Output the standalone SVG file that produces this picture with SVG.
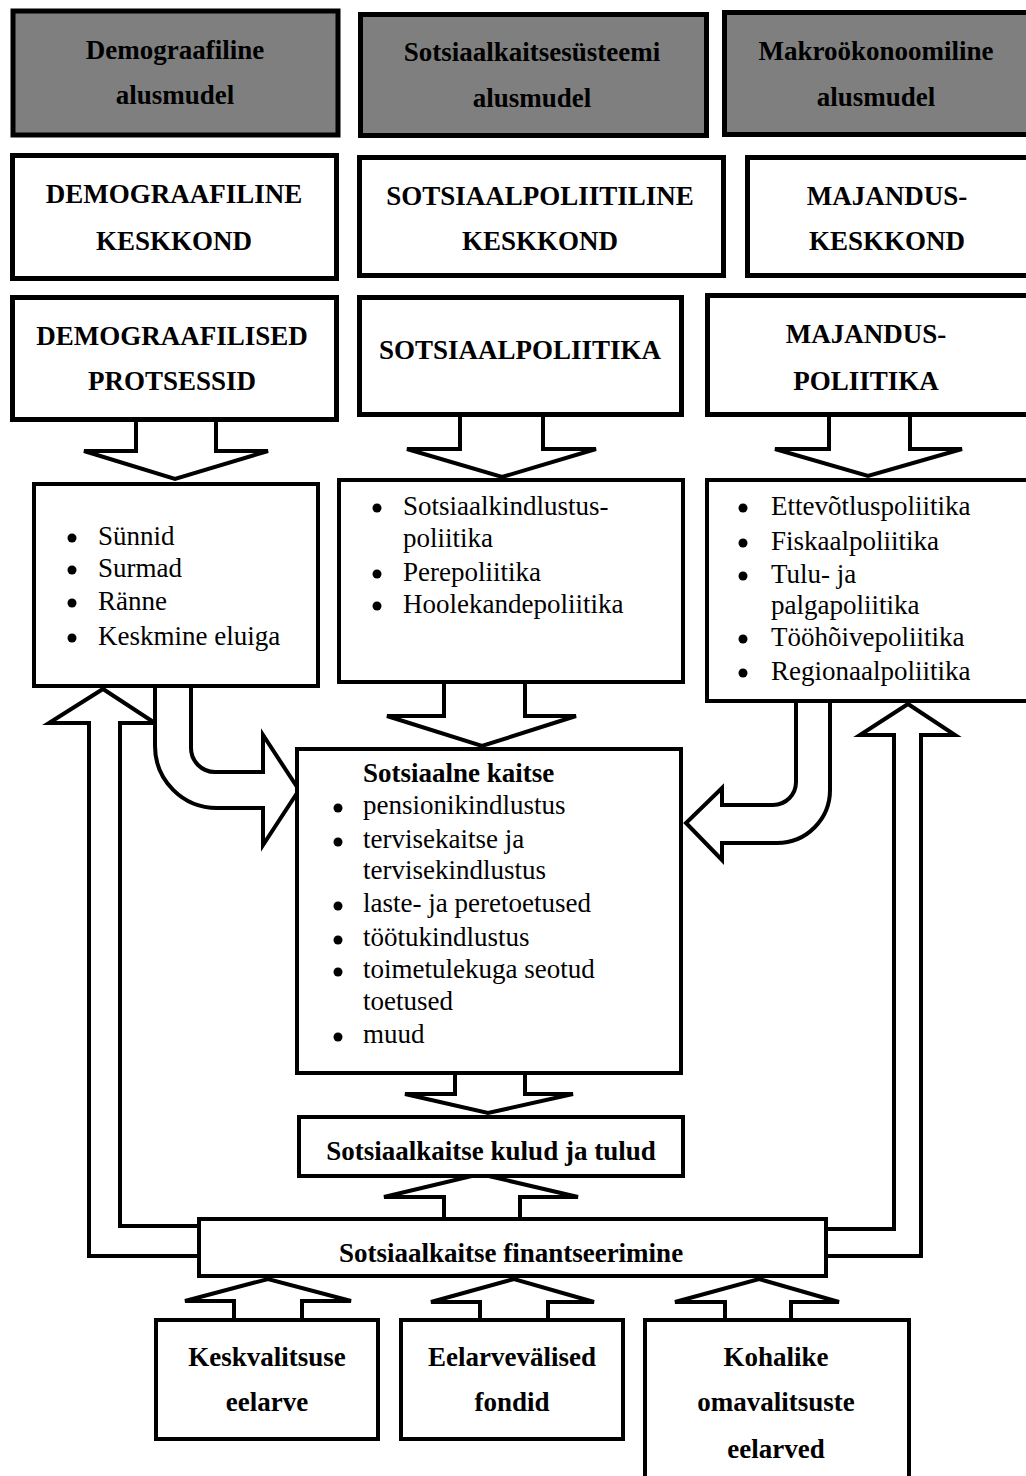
<svg xmlns="http://www.w3.org/2000/svg" width="1026" height="1476" viewBox="0 0 1026 1476">
<style>
.box{fill:#fff;stroke:#000;stroke-width:4}
.thick{stroke-width:5}
.gray{fill:#7f7f7f}
.arr{fill:#fff;stroke:#000;stroke-width:4;stroke-linejoin:miter}
.b{font-family:"Liberation Serif","Times New Roman",serif;font-weight:bold;font-size:27px;fill:#000}
.c{text-anchor:middle}
.r{font-family:"Liberation Serif","Times New Roman",serif;font-size:27px;fill:#000}
.dot{fill:#000}
</style>
<rect width="1026" height="1476" fill="#fff"/>
<g id="connectors">
  <path class="arr" d="M136,419 V451 H84 L175,479 L268,451 H216 V419"/>
  <path class="arr" d="M460,416 V449 H407 L502,477 L596,449 H543 V416"/>
  <path class="arr" d="M829,416 V449 H775 L868,476 L962,449 H910 V416"/>
  <path class="arr" d="M444,683 V716 H387 L482,746 L576,716 H525 V683"/>
  <path class="arr" d="M455,1074 V1094 H405 L488,1113 L573,1094 H525 V1074"/>
  <path class="arr" d="M444,1219 V1197 H384 L480,1174 L578,1197 H520 V1219"/>
  <path class="arr" d="M234,1320 V1301 H185 L268,1279 L351,1301 H302 V1320"/>
  <path class="arr" d="M480,1320 V1302 H431 L514,1279 L594,1302 H548 V1320"/>
  <path class="arr" d="M725,1320 V1302 H675 L759,1279 L839,1302 H791 V1320"/>
  <path class="arr" d="M199,1226 H120 V723 H155 L103,689 L49,723 H89 V1256 H199"/>
  <path class="arr" d="M826,1229 H894 V735 H860 L908,704 L955,735 H921 V1256 H826"/>
  <path class="arr" d="M155,686 V746 A62,62 0 0 0 217,808 H263 V845 L299,790 L263,735 V772 H215 A24,24 0 0 1 191,748 V686"/>
  <path class="arr" d="M796,701 V782 A23,23 0 0 1 773,805 H722 V788 L686,823 L722,860 V843 H777 A53,53 0 0 0 830,790 V701"/>
</g>
<g id="n-demo-alus"><rect class="box thick gray" x="13" y="11" width="325" height="124"/>
<text class="b c" x="175" y="59">Demograafiline</text><text class="b c" x="175" y="104">alusmudel</text></g>
<g id="n-sots-alus"><rect class="box thick gray" x="360.5" y="14.5" width="346" height="121"/>
<text class="b c" x="532" y="61">Sotsiaalkaitsesüsteemi</text><text class="b c" x="532" y="107">alusmudel</text></g>
<g id="n-makro-alus"><rect class="box thick gray" x="724.5" y="12.5" width="330" height="122"/>
<text class="b c" x="876" y="60">Makroökonoomiline</text><text class="b c" x="876" y="106">alusmudel</text></g>

<g id="n-demo-kesk"><rect class="box thick" x="12.5" y="155.5" width="324" height="123"/>
<text class="b c" x="174" y="203">DEMOGRAAFILINE</text><text class="b c" x="174" y="250">KESKKOND</text></g>
<g id="n-sots-kesk"><rect class="box thick" x="359.5" y="157.5" width="364" height="118"/>
<text class="b c" x="540" y="205">SOTSIAALPOLIITILINE</text><text class="b c" x="540" y="250">KESKKOND</text></g>
<g id="n-maj-kesk"><rect class="box thick" x="747.5" y="157.5" width="300" height="118"/>
<text class="b c" x="887" y="205">MAJANDUS-</text><text class="b c" x="887" y="250">KESKKOND</text></g>

<g id="n-demo-prot"><rect class="box thick" x="12.5" y="297.5" width="324" height="122"/>
<text class="b c" x="172" y="345">DEMOGRAAFILISED</text><text class="b c" x="172" y="390">PROTSESSID</text></g>
<g id="n-sotspol"><rect class="box thick" x="359.5" y="297.5" width="322" height="117"/>
<text class="b c" x="520" y="359">SOTSIAALPOLIITIKA</text></g>
<g id="n-majpol"><rect class="box thick" x="707.5" y="295.5" width="340" height="119"/>
<text class="b c" x="866" y="343">MAJANDUS-</text><text class="b c" x="866" y="390">POLIITIKA</text></g>

<g id="n-demo-list"><rect class="box" x="34" y="484" width="284" height="202"/>
<circle class="dot" cx="72" cy="538" r="4.5"/><text class="r" x="98" y="545">Sünnid</text>
<circle class="dot" cx="72" cy="570" r="4.5"/><text class="r" x="98" y="577">Surmad</text>
<circle class="dot" cx="72" cy="603" r="4.5"/><text class="r" x="98" y="610">Ränne</text>
<circle class="dot" cx="72" cy="638" r="4.5"/><text class="r" x="98" y="645">Keskmine eluiga</text></g>

<g id="n-sots-list"><rect class="box" x="339" y="480" width="344" height="202"/>
<circle class="dot" cx="377" cy="508" r="4.5"/><text class="r" x="403" y="515">Sotsiaalkindlustus-</text>
<text class="r" x="403" y="547">poliitika</text>
<circle class="dot" cx="377" cy="574" r="4.5"/><text class="r" x="403" y="581">Perepoliitika</text>
<circle class="dot" cx="377" cy="606" r="4.5"/><text class="r" x="403" y="613">Hoolekandepoliitika</text></g>

<g id="n-maj-list"><rect class="box" x="707" y="480" width="340" height="221"/>
<circle class="dot" cx="743" cy="508" r="4.5"/><text class="r" x="771" y="515">Ettevõtluspoliitika</text>
<circle class="dot" cx="743" cy="543" r="4.5"/><text class="r" x="771" y="550">Fiskaalpoliitika</text>
<circle class="dot" cx="743" cy="576" r="4.5"/><text class="r" x="771" y="583">Tulu- ja</text>
<text class="r" x="771" y="614">palgapoliitika</text>
<circle class="dot" cx="743" cy="639" r="4.5"/><text class="r" x="771" y="646">Tööhõivepoliitika</text>
<circle class="dot" cx="743" cy="673" r="4.5"/><text class="r" x="771" y="680">Regionaalpoliitika</text></g>

<g id="n-sotsiaalne-kaitse"><rect class="box" x="297" y="749" width="384" height="324"/>
<text class="b" x="363" y="782">Sotsiaalne kaitse</text>
<circle class="dot" cx="338" cy="808" r="4.5"/><text class="r" x="363" y="814">pensionikindlustus</text>
<circle class="dot" cx="338" cy="842" r="4.5"/><text class="r" x="363" y="848">tervisekaitse ja</text>
<text class="r" x="363" y="879">tervisekindlustus</text>
<circle class="dot" cx="338" cy="906" r="4.5"/><text class="r" x="363" y="912">laste- ja peretoetused</text>
<circle class="dot" cx="338" cy="940" r="4.5"/><text class="r" x="363" y="946">töötukindlustus</text>
<circle class="dot" cx="338" cy="972" r="4.5"/><text class="r" x="363" y="978">toimetulekuga seotud</text>
<text class="r" x="363" y="1010">toetused</text>
<circle class="dot" cx="338" cy="1037" r="4.5"/><text class="r" x="363" y="1043">muud</text></g>

<g id="n-kulud"><rect class="box" x="299" y="1117" width="384" height="59"/>
<text class="b c" x="491" y="1160">Sotsiaalkaitse kulud ja tulud</text></g>

<g id="n-finants"><rect class="box" x="199" y="1219" width="627" height="57"/>
<text class="b c" x="511" y="1262">Sotsiaalkaitse finantseerimine</text></g>

<g id="n-kesk"><rect class="box" x="156" y="1320" width="222" height="119"/>
<text class="b c" x="267" y="1366">Keskvalitsuse</text><text class="b c" x="267" y="1411">eelarve</text></g>
<g id="n-eelarve"><rect class="box" x="401" y="1320" width="222" height="119"/>
<text class="b c" x="512" y="1366">Eelarvevälised</text><text class="b c" x="512" y="1411">fondid</text></g>
<g id="n-kohalik"><rect class="box" x="645" y="1320" width="264" height="200"/>
<text class="b c" x="776" y="1366">Kohalike</text><text class="b c" x="776" y="1411">omavalitsuste</text><text class="b c" x="776" y="1458">eelarved</text></g>
</svg>
